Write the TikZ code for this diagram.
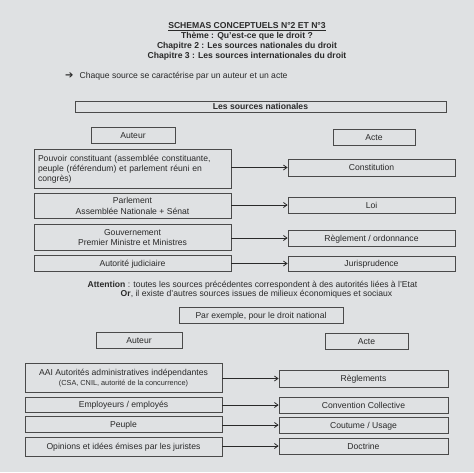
\documentclass[tikz,border=0pt]{standalone}
\usepackage{fontspec}
\setmainfont{Liberation Sans}
\newfontfamily\dejavu{DejaVu Sans}
\usetikzlibrary{arrows.meta}
\definecolor{paper}{HTML}{DFE1E3}
\definecolor{ink}{HTML}{2A2A2A}
\definecolor{edge}{HTML}{4A4A4A}
\begin{document}
\begin{tikzpicture}[x=1pt,y=-1pt,
  every node/.style={text=ink,font=\fontsize{8.6}{10.2}\selectfont},
  box/.style={draw=edge,line width=0.8pt,fill=paper,inner sep=0pt,align=center},
  one/.style={box,text height=7pt,text depth=0.7pt},
  conn/.style={draw=ink,line width=0.8pt,-{Straight Barb[length=3.5pt,width=5pt]}},
  ttl/.style={font=\fontsize{8.6}{10}\selectfont\bfseries,inner sep=0pt}]
\fill[paper] (0,0) rectangle (474,472);
\useasboundingbox (0,0) rectangle (474,472);
% titles
\node[ttl] (t1) at (247,27) {\underline{SCHEMAS CONCEPTUELS N°2 ET N°3}};
\node[ttl] (t2) at (247,36.5) {Thème : Qu’est-ce que le droit ?};
\node[ttl] (t3) at (247,46) {Chapitre 2 : Les sources nationales du droit};
\node[ttl] (t4) at (247,56) {Chapitre 3 : Les sources internationales du droit};
\node[anchor=west,inner sep=0pt] (intro) at (65,76) {{\dejavu\fontsize{10}{10}\selectfont ➔}\hspace{6pt}Chaque source se caractérise par un auteur et un acte};
% part 1
\node[one,minimum width=371,minimum height=11,font=\fontsize{8.6}{10}\selectfont\bfseries] (sn) at (260.5,106.5) {Les sources nationales};
\node[one,minimum width=84,minimum height=16] (aut1) at (133,135) {Auteur};
\node[one,minimum width=82,minimum height=16] (act1) at (374,137) {Acte};
\node[box,minimum width=197,minimum height=39,align=left,text width=189pt] (pc) at (132.5,169) {Pouvoir constituant (assemblée constituante,\\peuple (référendum) et parlement réuni en\\congrès)};
\node[one,minimum width=167,minimum height=17] (const) at (371.5,167.5) {Constitution};
\node[box,minimum width=197,minimum height=25] (parl) at (132.5,206) {Parlement\\Assemblée Nationale + Sénat};
\node[one,minimum width=167,minimum height=16] (loi) at (371.5,205) {Loi};
\node[box,minimum width=197,minimum height=26] (gouv) at (132.5,237.5) {Gouvernement\\Premier Ministre et Ministres};
\node[one,minimum width=167,minimum height=16] (regl) at (371.5,238) {Règlement / ordonnance};
\node[one,minimum width=197,minimum height=16] (judi) at (132.5,263) {Autorité judiciaire};
\node[one,minimum width=167,minimum height=15] (juris) at (371.5,263.5) {Jurisprudence};
\draw[conn] (pc.east |- const) -- (const);
\draw[conn] (parl.east |- loi) -- (loi);
\draw[conn] (gouv.east |- regl) -- (regl);
\draw[conn] (judi.east |- juris) -- (juris);
% attention
\node[inner sep=0pt] (att1) at (252.5,285) {\textbf{Attention} : toutes les sources précédentes correspondent à des autorités liées à l’Etat};
\node[inner sep=0pt] (att2) at (256.5,294.5) {\textbf{Or}, il existe d’autres sources issues de milieux économiques et sociaux};
% part 2
\node[one,minimum width=164,minimum height=16] (parex) at (261,315) {Par exemple, pour le droit national};
\node[one,minimum width=86,minimum height=16] (aut2) at (139,340) {Auteur};
\node[one,minimum width=83,minimum height=16] (act2) at (366.5,341) {Acte};
\node[box,minimum width=197,minimum height=29] (aai) at (123.5,378) {AAI Autorités administratives indépendantes\\{\fontsize{7.3}{9}\selectfont (CSA, CNIL, autorité de la concurrence)}};
\node[one,minimum width=169,minimum height=17] (reglts) at (363.5,378.5) {Règlements};
\node[one,minimum width=197,minimum height=15] (empl) at (123.5,404.5) {Employeurs / employés};
\node[one,minimum width=169,minimum height=16] (conv) at (363.5,405) {Convention Collective};
\node[one,minimum width=197,minimum height=16] (peuple) at (123.5,424) {Peuple};
\node[one,minimum width=169,minimum height=16] (cout) at (363.5,425) {Coutume / Usage};
\node[one,minimum width=197,minimum height=19] (opin) at (123.5,446.5) {Opinions et idées émises par les juristes};
\node[one,minimum width=169,minimum height=16] (doct) at (363.5,446) {Doctrine};
\draw[conn] (aai.east |- reglts) -- (reglts);
\draw[conn] (empl.east |- conv) -- (conv);
\draw[conn] (peuple.east |- cout) -- (cout);
\draw[conn] (opin.east |- doct) -- (doct);
\end{tikzpicture}
\end{document}
